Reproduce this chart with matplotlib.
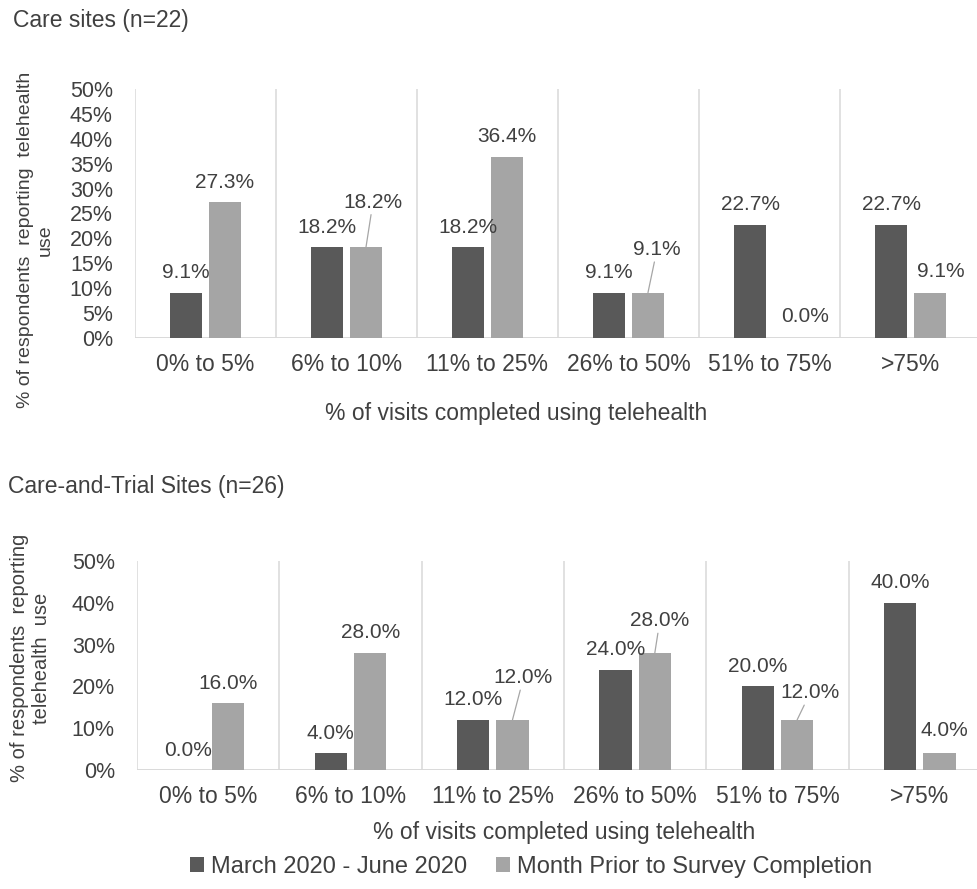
import numpy as np
import matplotlib
matplotlib.use('Agg')
import matplotlib.pyplot as plt
from matplotlib.patches import Patch

plt.rcParams['font.family'] = ['Liberation Sans', 'DejaVu Sans']

# data
categories = ['0% to 5%', '6% to 10%', '11% to 25%', '26% to 50%', '51% to 75%', '>75%']
series_names = ['March 2020 - June 2020', 'Month Prior to Survey Completion']

care_early = [9.1, 18.2, 18.2, 9.1, 22.7, 22.7]
care_month = [27.3, 18.2, 36.4, 9.1, 0.0, 9.1]
trial_early = [0.0, 4.0, 12.0, 24.0, 20.0, 40.0]
trial_month = [16.0, 28.0, 12.0, 28.0, 12.0, 4.0]

care_ticks = [0, 5, 10, 15, 20, 25, 30, 35, 40, 45, 50]
trial_ticks = [0, 10, 20, 30, 40, 50]

dark = '#595959'
light = '#a5a5a5'
txt = '#404040'
gridc = '#d9d9d9'

# label nudges in pixels (dx, dy) from the bar top, keyed by (category, series)
top_nudge = {(1, 1): (7, 45), (3, 1): (9, 43), (4, 1): (16, 21), (5, 1): (11, 21)}
bot_nudge = {(2, 1): (11, 42), (3, 1): (5, 32), (4, 1): (13, 27), (5, 1): (5, 23)}

fig = plt.figure(figsize=(9.77, 8.89), dpi=100)
W, H = 977.0, 889.0


def draw_panel(ax, early, month, yticks, nudge):
    x = np.arange(len(categories))
    w = 0.227
    off = 0.138
    ax.bar(x - off, early, w, color=dark, zorder=3)
    ax.bar(x + off, month, w, color=light, zorder=3)

    ax.set_xlim(-0.5, len(categories) - 0.5)
    ax.set_ylim(0, 50)
    for s in ax.spines.values():
        s.set_visible(False)
    ax.vlines(np.arange(len(categories) + 1) - 0.5, 0, 50, color=gridc, lw=1.1, zorder=1)
    ax.axhline(0, color=gridc, lw=1.4, zorder=2)

    ax.set_yticks(yticks)
    ax.set_yticklabels([f'{v}%' for v in yticks])
    ax.set_xticks(x)
    ax.set_xticklabels(categories)
    ax.tick_params(axis='y', length=0, pad=16, labelsize=15.5, labelcolor=txt)
    ax.tick_params(axis='x', length=0, pad=11, labelsize=16.5, labelcolor=txt)

    for si, vals in enumerate([early, month]):
        for ci, v in enumerate(vals):
            xc = ci + (off if si == 1 else -off)
            dx, dy = nudge.get((ci, si), (0, 20))
            props = None
            if dy >= 27:
                props = dict(arrowstyle='-', color='#a6a6a6', lw=0.9, shrinkA=0, shrinkB=0)
            ax.annotate(f'{v:.1f}%', xy=(xc, v), xytext=(dx, dy), textcoords='offset pixels',
                        ha='center', va='center', fontsize=15, color=txt,
                        arrowprops=props, zorder=4)


ax1 = fig.add_axes([135 / W, 1 - 338 / H, 846 / W, 249 / H])
draw_panel(ax1, care_early, care_month, care_ticks, top_nudge)

ax2 = fig.add_axes([137 / W, 1 - 770 / H, 854 / W, 209 / H])
draw_panel(ax2, trial_early, trial_month, trial_ticks, bot_nudge)

# titles and axis labels
fig.text(13 / W, 1 - 20 / H, 'Care sites (n=22)', fontsize=16.5, color=txt, ha='left', va='center')
fig.text(8 / W, 1 - 487 / H, 'Care-and-Trial Sites (n=26)', fontsize=16.5, color=txt, ha='left', va='center')

fig.text(35.5 / W, 1 - 240 / H, '% of respondents  reporting  telehealth\nuse', rotation=90,
         fontsize=14, color=txt, ha='center', va='center', multialignment='center')
fig.text(30.5 / W, 1 - 658 / H, '% of respondents  reporting\ntelehealth  use', rotation=90,
         fontsize=14.5, color=txt, ha='center', va='center', multialignment='center')

fig.text(516 / W, 1 - 413 / H, '% of visits completed using telehealth', fontsize=16.5,
         color=txt, ha='center', va='center')
fig.text(564 / W, 1 - 832 / H, '% of visits completed using telehealth', fontsize=16.5,
         color=txt, ha='center', va='center')

handles = [Patch(facecolor=dark), Patch(facecolor=light)]
fig.legend(handles, series_names, loc='center', bbox_to_anchor=(531 / W, 1 - 867 / H),
           ncol=2, frameon=False, fontsize=17, handlelength=0.6, handleheight=0.6,
           handletextpad=0.3, columnspacing=1.2, labelcolor=txt)

fig.savefig('out.png', dpi=100)
